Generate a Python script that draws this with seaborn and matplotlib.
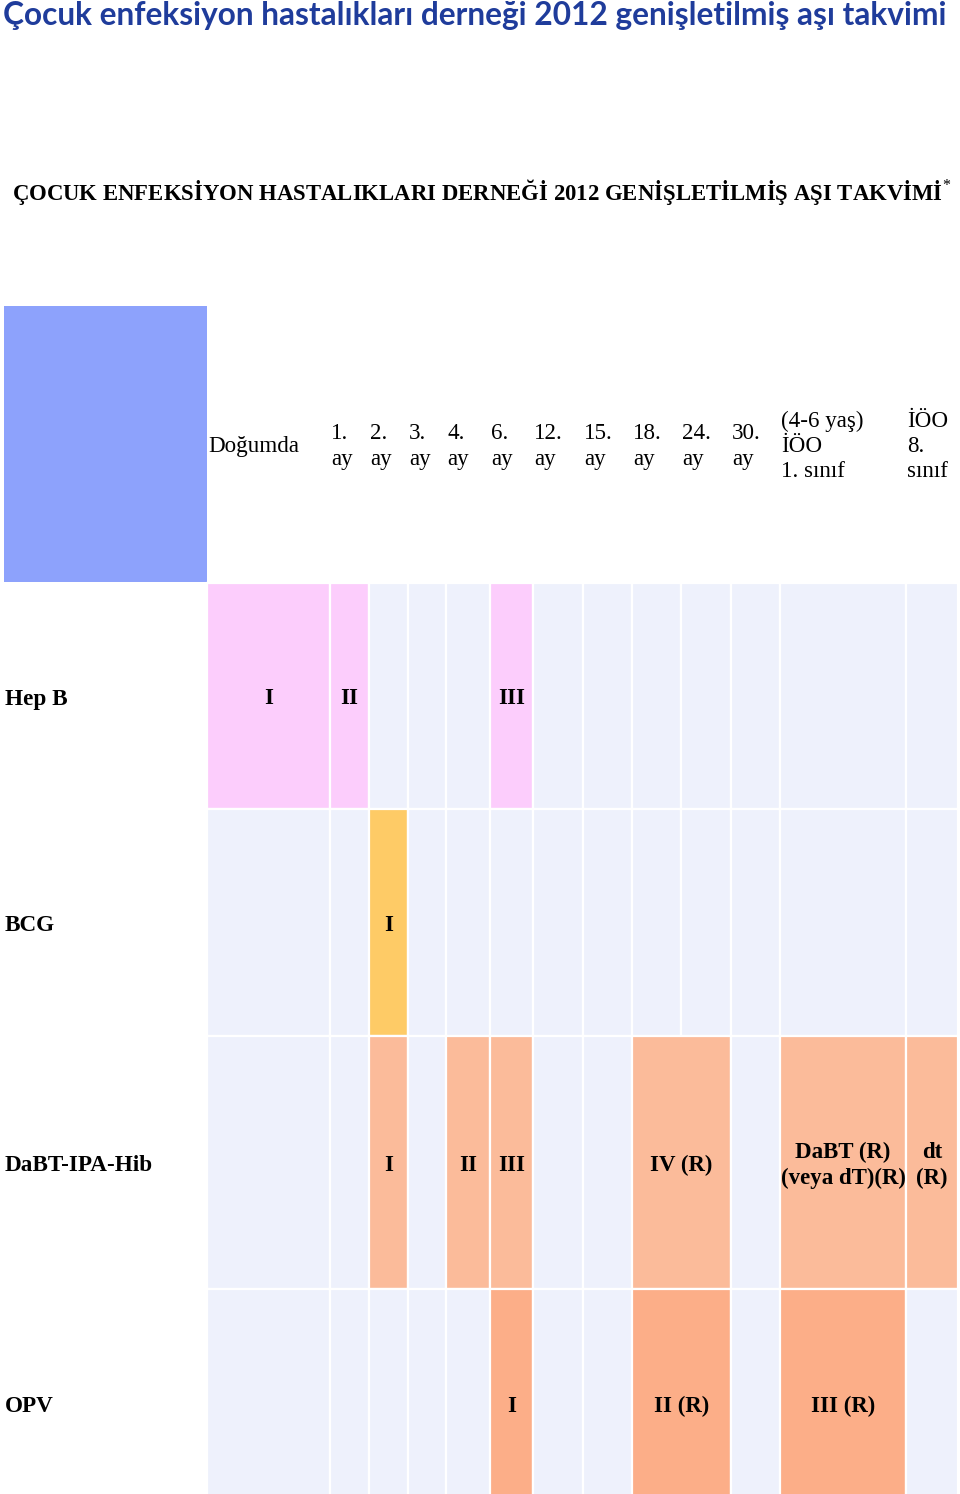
import matplotlib
matplotlib.use("Agg")
import matplotlib.pyplot as plt
import seaborn as sns

# Schedule data
columns = ["Doğumda", "1.\nay", "2.\nay", "3.\nay", "4.\nay", "6.\nay", "12.\nay",
           "15.\nay", "18.\nay", "24.\nay", "30.\nay",
           "(4-6 yaş)\nİÖO\n1. sınıf", "İÖO\n8.\nsınıf"]
vaccines = ["Hep B", "BCG", "DaBT-IPA-Hib", "OPV"]

# (first column, last column, dose label)
hepb_doses = [(0, 0, "I"), (1, 1, "II"), (5, 5, "III")]
bcg_doses = [(2, 2, "I")]
dabt_doses = [(2, 2, "I"), (4, 4, "II"), (5, 5, "III"), (8, 9, "IV (R)"),
              (11, 11, "DaBT (R)\n(veya dT)(R)"), (12, 12, "dt\n(R)")]
opv_doses = [(5, 5, "I"), (8, 9, "II (R)"), (11, 11, "III (R)")]
doses = [hepb_doses, bcg_doses, dabt_doses, opv_doses]

title = "Çocuk enfeksiyon hastalıkları derneği 2012 genişletilmiş aşı takvimi"
subtitle = "ÇOCUK ENFEKSİYON HASTALIKLARI DERNEĞİ 2012 GENİŞLETİLMİŞ AŞI TAKVİMİ"

# Layout (pixel grid of the page)
col_edges = [207, 330, 369, 408, 446, 490, 533, 583, 632, 681, 731, 780, 906, 958]
row_edges = [583, 809, 1036, 1289, 1518]
header_top = 306
dose_colors = ["#FCCDFC", "#FECB66", "#FBBB9A", "#FCAE88"]
empty_color = "#EEF1FC"
header_color = "#8DA2FC"
serif = ["Liberation Serif", "DejaVu Serif"]

sns.set_theme(style="white")
plt.rcParams["font.family"] = serif
plt.rcParams["text.color"] = "black"
plt.rcParams["mathtext.fontset"] = "custom"
plt.rcParams["mathtext.rm"] = "Liberation Serif"

fig = plt.figure(figsize=(9.6, 14.94), dpi=100)
ax = fig.add_axes([0, 0, 1, 1])
ax.set_xlim(0, 960)
ax.set_ylim(1494, 0)
ax.axis("off")

ax.text(3, 16, title, fontsize=22.8, fontweight="bold", color="#1F3C9B",
        family=["Lato", "DejaVu Sans"], ha="left", va="center")
ax.text(12, 192, subtitle + r"$^{\mathrm{*}}$", fontsize=16.4, fontweight="bold",
        ha="left", va="center")

# header row
ax.bar(4, row_edges[0] - header_top - 1, width=203, bottom=header_top,
       align="edge", color=header_color, linewidth=0)
header_mid = (header_top + row_edges[0]) / 2 + 2
for i, lab in enumerate(columns):
    ax.text(col_edges[i] + 1, header_mid, lab, fontsize=16.6, ha="left",
            va="center", linespacing=1.27)

# body rows
for r, name in enumerate(vaccines):
    top, bot = row_edges[r], row_edges[r + 1]
    mid = (top + bot) / 2 + 3
    ax.text(5, mid, name, fontsize=16.7, fontweight="bold", ha="left", va="center")
    covered = {}
    for first, last, lab in doses[r]:
        for c in range(first, last + 1):
            covered[c] = (first, last, lab)
    c = 0
    while c < len(columns):
        if c in covered:
            first, last, lab = covered[c]
            color = dose_colors[r]
        else:
            first, last, lab = c, c, None
            color = empty_color
        x0, x1 = col_edges[first], col_edges[last + 1]
        ax.bar(x0, bot - top, width=x1 - x0, bottom=top, align="edge",
               color=color, edgecolor="white", linewidth=1.6)
        if lab:
            ax.text((x0 + x1) / 2, mid, lab, fontsize=16.5, fontweight="bold",
                    ha="center", va="center", linespacing=1.27)
        c = last + 1

fig.savefig("out.png", dpi=100)
